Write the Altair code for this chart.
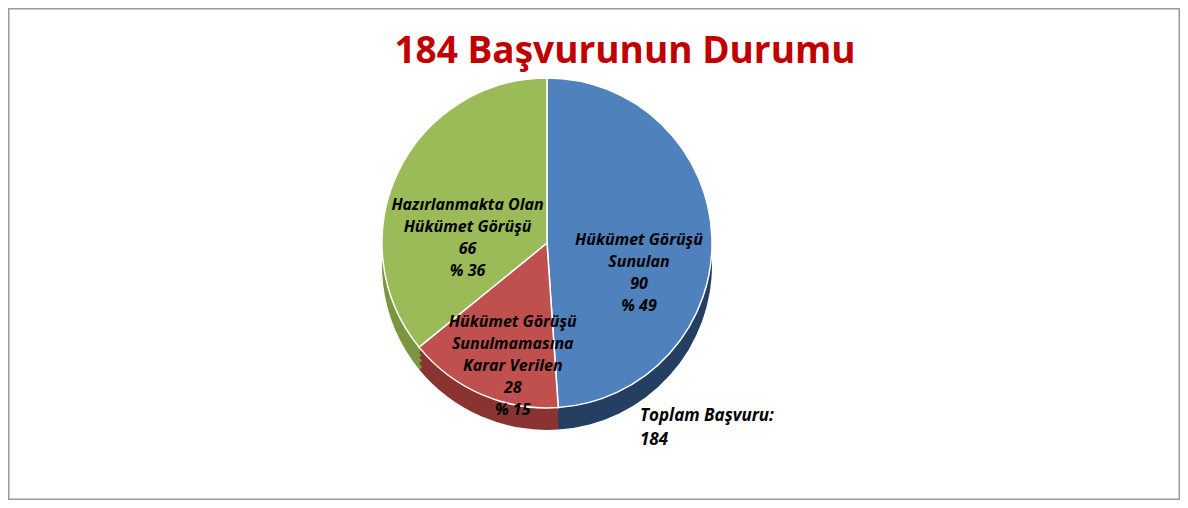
import altair as alt
import pandas as pd

# ---- data ----
categories = [
    "Hükümet Görüşü Sunulan",
    "Hükümet Görüşü Sunulmamasına Karar Verilen",
    "Hazırlanmakta Olan Hükümet Görüşü",
]
counts = [90, 28, 66]
percents = [49, 15, 36]
label_lines = [
    ["Hükümet Görüşü", "Sunulan"],
    ["Hükümet Görüşü", "Sunulmamasına", "Karar Verilen"],
    ["Hazırlanmakta Olan", "Hükümet Görüşü"],
]
title_text = "184 Başvurunun Durumu"
total_lines = ["Toplam Başvuru:", "184"]

# ---- styles ----
top_colors = ["#4F81BD", "#C0504D", "#9BBB59"]
side_colors = ["#243F62", "#8A3431", "#7A973F"]
W, H = 1172, 492
CX, CY, R = 539, 235, 165
FONT = "Open Sans"

df = pd.DataFrame({
    "category": categories,
    "count": counts,
    "pct": percents,
    "order": list(range(len(categories))),
    "label": [lines + [str(c), f"% {p}"] for lines, c, p in zip(label_lines, counts, percents)],
})

base = alt.Chart(df).encode(
    theta=alt.Theta("count:Q", stack=True),
    order=alt.Order("order:Q"),
)

side_layers = []
for d in [22, 16, 10, 5]:
    side_layers.append(
        base.mark_arc(outerRadius=R, stroke=None).encode(
            x=alt.value(CX), y=alt.value(CY + d),
            color=alt.Color("category:N", scale=alt.Scale(domain=categories, range=side_colors), legend=None),
        )
    )
sides = alt.layer(*side_layers)

top = base.mark_arc(outerRadius=R, stroke="white", strokeWidth=1.5).encode(
    x=alt.value(CX), y=alt.value(CY),
    color=alt.Color("category:N", scale=alt.Scale(domain=categories, range=top_colors), legend=None),
)

# label anchor at each slice's mid-angle (computed from the counts)
labels = alt.Chart(df).transform_joinaggregate(
    total="sum(count)"
).transform_window(
    cum="sum(count)", sort=[alt.SortField("order")]
).transform_calculate(
    mid="(datum.cum - datum.count / 2) / datum.total * 2 * PI",
    lr="datum.order == 0 ? 92 : (datum.order == 1 ? 86 : 88)",
).transform_calculate(
    px=f"{CX} + datum.lr * sin(datum.mid)",
    py=f"{CY} - datum.lr * cos(datum.mid)",
).mark_text(
    font=FONT, fontSize=16, fontWeight="bold", fontStyle="italic",
    color="black", lineHeight=22, align="center", baseline="middle",
).encode(
    x=alt.X("px:Q", scale=None),
    y=alt.Y("py:Q", scale=None),
    text=alt.Text("label"),
)

title = alt.Chart(pd.DataFrame({"t": [title_text]})).mark_text(
    font=FONT, fontSize=37, fontWeight="bold", color="#C00000", baseline="middle",
).encode(text="t:N", x=alt.value(617), y=alt.value(44))

total = alt.Chart(pd.DataFrame({"t": [total_lines]})).mark_text(
    font=FONT, fontSize=17, fontWeight="bold", fontStyle="italic", color="black",
    align="left", baseline="top", lineHeight=24,
).encode(text="t", x=alt.value(632), y=alt.value(400))

chart = alt.layer(sides, top, labels, title, total).resolve_scale(
    color="independent"
).properties(
    width=W, height=H, padding=0,
    autosize=alt.AutoSizeParams(type="fit", contains="padding"),
).configure_view(stroke="#9A9A9A", strokeWidth=3)

chart.save("out.html", embed_options={"renderer": "svg", "actions": False})
